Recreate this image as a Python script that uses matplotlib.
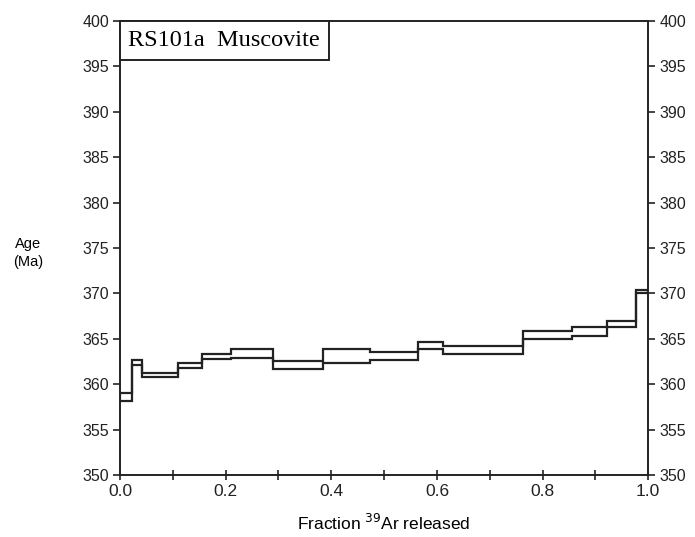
import matplotlib
matplotlib.use("Agg")
import matplotlib.pyplot as plt
from matplotlib.patches import Rectangle
import numpy as np

# Step boundaries (cumulative fraction of 39Ar released)
edges = [0.0, 0.022, 0.041, 0.110, 0.155, 0.210, 0.290, 0.385, 0.473,
         0.565, 0.612, 0.763, 0.855, 0.922, 0.977, 1.0]
# Upper and lower age bounds (Ma) for each step
age_upper = [359.0, 362.7, 361.2, 362.3, 363.3, 363.9, 362.6, 363.9,
             363.5, 364.65, 364.2, 365.9, 366.3, 367.0, 370.4]
age_lower = [358.2, 362.1, 360.8, 361.8, 362.75, 362.9, 361.7, 362.3,
             362.7, 363.9, 363.3, 365.0, 365.3, 366.3, 370.0]

y_ticks = list(range(350, 401, 5))
x_ticks = [0.0, 0.1, 0.2, 0.3, 0.4, 0.5, 0.6, 0.7, 0.8, 0.9, 1.0]
x_labels = ["0.0", "", "0.2", "", "0.4", "", "0.6", "", "0.8", "", "1.0"]

plt.rcParams['font.family'] = ['Liberation Sans', 'DejaVu Sans']

fig = plt.figure(figsize=(6.95, 5.37), dpi=100)
ax = fig.add_axes([0.1727, 0.1155, 0.760, 0.8455])

ax.stairs(age_upper, edges, color='#222222', lw=1.6, baseline=None)
ax.stairs(age_lower, edges, color='#222222', lw=1.6, baseline=None)
# vertical closures at both ends
ax.plot([edges[0], edges[0]], [age_lower[0], age_upper[0]], color='#222222', lw=1.6)
ax.plot([edges[-1], edges[-1]], [age_lower[-1], age_upper[-1]], color='#222222', lw=1.6)

ax.set_xlim(0, 1)
ax.set_ylim(350, 400)
ax.set_xticks(x_ticks)
ax.set_xticklabels(x_labels)
ax.set_yticks(y_ticks)
ax.tick_params(axis='both', colors='#222222', width=1.2, length=5)
ax.tick_params(axis='y', direction='out', right=True, labelright=True,
               labelsize=11.5, pad=3)
ax.tick_params(axis='x', direction='inout', length=7, labelsize=12.5, pad=3)
for s in ax.spines.values():
    s.set_linewidth(1.4)
    s.set_color('#222222')

ax.set_xlabel("Fraction $^{39}$Ar released", fontsize=12.5, labelpad=10)
fig.text(0.04, 0.529, "Age\n(Ma)", fontsize=10.5, ha='center', va='center',
         linespacing=1.4)

ax.add_patch(Rectangle((0, 0.914), 0.396, 0.086, transform=ax.transAxes,
                       facecolor='white', edgecolor='#222222', lw=1.4,
                       zorder=5, clip_on=False))
ax.text(0.016, 0.958, "RS101a  Muscovite", transform=ax.transAxes,
        fontsize=17.5, family=['Liberation Serif', 'DejaVu Serif'],
        ha='left', va='center', zorder=6)

fig.savefig("out.png", dpi=100)
